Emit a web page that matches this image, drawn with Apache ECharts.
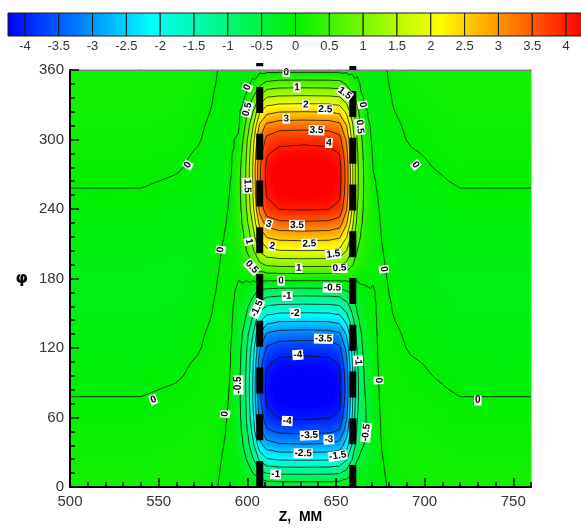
<!DOCTYPE html>
<html>
<head>
<meta charset="utf-8">
<title>phi - Z contour map</title>
<script src="https://cdn.jsdelivr.net/npm/echarts@6/dist/echarts.min.js"></script>
<style>
  html, body { margin: 0; padding: 0; background: #fff; }
  #main { width: 581px; height: 529px; }
</style>
</head>
<body>
<div id="main"></div>
<script>
// grid nodes of the field
const zNodes = [500, 540, 560, 572, 580, 586, 591, 595, 599, 603, 607, 611, 618, 632, 646, 652, 656, 659, 662, 666, 671, 676, 682, 692, 720, 760]
const phiNodes = [0, 12, 24, 36, 48, 60, 72, 84, 96, 108, 120, 132, 144, 156, 168, 180, 192, 204, 216, 228, 240, 252, 264, 276, 288, 300, 312, 324, 336, 348, 360]

// estimated value at every node, one row per phi
const fieldRows = [
  [0.15, 0.15, 0.15, 0.13, 0.06, -0.05, -0.05, -0.05, -0.04, -0.07, -0.12, -0.14, -0.15, -0.15, -0.15, -0.14, -0.11, -0.08, -0.04, -0.05, -0.07, -0.05, 0.06, 0.13, 0.15, 0.15], // 0
  [0.14, 0.14, 0.15, 0.14, 0.08, -0.03, -0.06, -0.09, -0.24, -0.49, -0.84, -1.02, -1.07, -1.08, -1.07, -1.03, -0.81, -0.54, -0.27, -0.20, -0.10, -0.03, 0.08, 0.14, 0.14, 0.14], // 12
  [0.12, 0.12, 0.14, 0.14, 0.10, -0.01, -0.06, -0.17, -0.46, -0.94, -1.62, -1.96, -2.06, -2.08, -2.06, -1.98, -1.56, -1.04, -0.52, -0.35, -0.14, -0.01, 0.10, 0.14, 0.12, 0.12], // 24
  [0.10, 0.10, 0.12, 0.14, 0.11, 0.01, -0.06, -0.24, -0.65, -1.32, -2.29, -2.76, -2.91, -2.94, -2.91, -2.79, -2.21, -1.47, -0.74, -0.48, -0.17, 0.01, 0.11, 0.14, 0.10, 0.10], // 36
  [0.08, 0.08, 0.10, 0.13, 0.12, 0.03, -0.05, -0.29, -0.80, -1.63, -2.82, -3.40, -3.58, -3.62, -3.58, -3.44, -2.72, -1.81, -0.91, -0.56, -0.19, 0.03, 0.12, 0.13, 0.08, 0.08], // 48
  [0.05, 0.05, 0.08, 0.11, 0.12, 0.05, -0.05, -0.33, -0.90, -1.83, -3.17, -3.83, -4.03, -4.07, -4.03, -3.87, -3.05, -2.04, -1.02, -0.58, -0.19, 0.05, 0.12, 0.11, 0.05, 0.05], // 60
  [0.02, 0.02, 0.05, 0.09, 0.12, 0.07, -0.04, -0.34, -0.95, -1.94, -3.35, -4.04, -4.26, -4.30, -4.26, -4.09, -3.23, -2.15, -1.08, -0.56, -0.18, 0.07, 0.12, 0.09, 0.02, 0.02], // 72
  [-0.02, -0.02, 0.02, 0.07, 0.11, 0.08, -0.03, -0.35, -0.97, -1.98, -3.43, -4.14, -4.36, -4.40, -4.36, -4.18, -3.30, -2.20, -1.10, -0.52, -0.16, 0.08, 0.11, 0.07, -0.02, -0.02], // 84
  [-0.05, -0.05, -0.02, 0.04, 0.10, 0.09, -0.02, -0.35, -0.96, -1.96, -3.39, -4.09, -4.31, -4.35, -4.31, -4.13, -3.26, -2.18, -1.09, -0.48, -0.14, 0.09, 0.10, 0.04, -0.05, -0.05], // 96
  [-0.08, -0.08, -0.05, 0.02, 0.08, 0.10, -0.01, -0.33, -0.91, -1.87, -3.24, -3.90, -4.11, -4.15, -4.11, -3.94, -3.11, -2.08, -1.04, -0.42, -0.12, 0.10, 0.08, 0.02, -0.08, -0.08], // 108
  [-0.10, -0.10, -0.08, -0.02, 0.06, 0.10, -0.01, -0.30, -0.84, -1.71, -2.96, -3.57, -3.76, -3.80, -3.76, -3.61, -2.85, -1.90, -0.95, -0.36, -0.10, 0.10, 0.06, -0.02, -0.10, -0.10], // 120
  [-0.12, -0.12, -0.10, -0.04, 0.04, 0.10, 0.01, -0.26, -0.72, -1.46, -2.54, -3.06, -3.22, -3.25, -3.22, -3.09, -2.44, -1.63, -0.81, -0.30, -0.08, 0.10, 0.04, -0.04, -0.12, -0.12], // 132
  [-0.14, -0.14, -0.12, -0.07, 0.01, 0.09, 0.03, -0.19, -0.53, -1.09, -1.90, -2.28, -2.41, -2.43, -2.41, -2.31, -1.82, -1.22, -0.61, -0.22, -0.06, 0.09, 0.01, -0.07, -0.14, -0.14], // 144
  [-0.15, -0.15, -0.14, -0.09, -0.01, 0.08, 0.04, -0.13, -0.36, -0.73, -1.27, -1.53, -1.61, -1.63, -1.61, -1.55, -1.22, -0.82, -0.41, -0.14, -0.04, 0.08, -0.01, -0.09, -0.15, -0.15], // 156
  [-0.15, -0.15, -0.15, -0.11, -0.04, 0.07, 0.05, -0.06, -0.17, -0.36, -0.62, -0.74, -0.78, -0.79, -0.78, -0.75, -0.59, -0.40, -0.20, -0.06, -0.02, 0.07, -0.04, -0.11, -0.15, -0.15], // 168
  [-0.15, -0.15, -0.15, -0.13, -0.06, 0.05, 0.06, 0.01, 0.03, 0.07, 0.12, 0.14, 0.15, 0.15, 0.15, 0.14, 0.11, 0.08, 0.04, 0.05, 0.02, 0.05, -0.06, -0.13, -0.15, -0.15], // 180
  [-0.14, -0.14, -0.15, -0.14, -0.08, 0.03, 0.06, 0.09, 0.25, 0.51, 0.89, 1.07, 1.13, 1.14, 1.13, 1.08, 0.86, 0.57, 0.29, 0.15, 0.08, 0.03, -0.08, -0.14, -0.14, -0.14], // 192
  [-0.12, -0.12, -0.14, -0.14, -0.10, 0.01, 0.06, 0.16, 0.44, 0.90, 1.56, 1.88, 1.98, 2.00, 1.98, 1.90, 1.50, 1.00, 0.50, 0.22, 0.10, 0.01, -0.10, -0.14, -0.12, -0.12], // 204
  [-0.10, -0.10, -0.12, -0.14, -0.11, -0.01, 0.05, 0.22, 0.59, 1.22, 2.11, 2.54, 2.67, 2.70, 2.67, 2.57, 2.03, 1.35, 0.68, 0.29, 0.11, -0.01, -0.11, -0.14, -0.10, -0.10], // 216
  [-0.08, -0.08, -0.10, -0.13, -0.12, -0.03, 0.04, 0.27, 0.75, 1.54, 2.68, 3.22, 3.40, 3.43, 3.40, 3.26, 2.57, 1.72, 0.86, 0.35, 0.11, -0.03, -0.12, -0.13, -0.08, -0.08], // 228
  [-0.05, -0.05, -0.08, -0.11, -0.12, -0.05, 0.03, 0.30, 0.89, 1.82, 3.16, 3.81, 4.01, 4.05, 4.01, 3.85, 3.04, 2.03, 1.01, 0.40, 0.10, -0.05, -0.12, -0.11, -0.05, -0.05], // 240
  [-0.02, -0.02, -0.05, -0.09, -0.12, -0.07, 0.02, 0.33, 0.95, 1.94, 3.35, 4.04, 4.26, 4.30, 4.26, 4.09, 3.23, 2.15, 1.08, 0.43, 0.07, -0.07, -0.12, -0.09, -0.02, -0.02], // 252
  [0.02, 0.02, -0.02, -0.07, -0.11, -0.08, 0.01, 0.33, 0.97, 1.98, 3.43, 4.14, 4.36, 4.40, 4.36, 4.18, 3.30, 2.20, 1.10, 0.44, 0.03, -0.08, -0.11, -0.07, 0.02, 0.02], // 264
  [0.05, 0.05, 0.02, -0.04, -0.10, -0.09, -0.01, 0.28, 0.96, 1.97, 3.42, 4.12, 4.34, 4.38, 4.34, 4.16, 3.29, 2.19, 1.10, 0.42, -0.01, -0.09, -0.10, -0.04, 0.05, 0.05], // 276
  [0.08, 0.08, 0.05, -0.02, -0.08, -0.10, -0.02, 0.18, 0.88, 1.89, 3.28, 3.95, 4.16, 4.20, 4.16, 3.99, 3.15, 2.10, 1.05, 0.37, -0.04, -0.10, -0.08, -0.02, 0.08, 0.08], // 288
  [0.10, 0.10, 0.08, 0.02, -0.06, -0.10, -0.03, 0.04, 0.75, 1.74, 3.02, 3.64, 3.83, 3.87, 3.83, 3.68, 2.90, 1.94, 0.97, 0.28, -0.07, -0.10, -0.06, 0.02, 0.10, 0.10], // 300
  [0.12, 0.12, 0.10, 0.04, -0.04, -0.10, -0.04, -0.05, 0.55, 1.40, 2.60, 3.13, 3.30, 3.33, 3.30, 3.16, 2.50, 1.67, 0.83, 0.18, -0.09, -0.10, -0.04, 0.04, 0.12, 0.12], // 312
  [0.14, 0.14, 0.12, 0.07, -0.01, -0.09, -0.05, -0.08, 0.30, 0.95, 1.95, 2.35, 2.48, 2.50, 2.48, 2.38, 1.88, 1.25, 0.63, 0.06, -0.10, -0.09, -0.01, 0.07, 0.14, 0.14], // 324
  [0.15, 0.15, 0.14, 0.09, 0.01, -0.08, -0.05, -0.08, 0.02, 0.50, 1.10, 1.54, 1.62, 1.64, 1.62, 1.56, 1.23, 0.70, 0.35, -0.05, -0.10, -0.08, 0.01, 0.09, 0.15, 0.15], // 336
  [0.15, 0.15, 0.15, 0.11, 0.04, -0.07, -0.05, -0.07, -0.08, 0.05, 0.40, 0.65, 0.74, 0.75, 0.74, 0.71, 0.45, 0.20, 0.05, -0.08, -0.09, -0.07, 0.04, 0.11, 0.15, 0.15], // 348
  [0.15, 0.15, 0.15, 0.13, 0.06, -0.05, -0.05, -0.05, -0.05, -0.07, -0.12, -0.14, -0.15, -0.15, -0.15, -0.14, -0.11, -0.08, -0.04, -0.08, -0.08, -0.05, 0.06, 0.13, 0.15, 0.15]  // 360
]

const contourLevels = [-4, -3.5, -3, -2.5, -2, -1.5, -1, -0.5, 0, 0.5, 1, 1.5, 2, 2.5, 3, 3.5, 4]
const colorRange = [-4.25, 4.25]
const xMajorTicks = [500, 550, 600, 650, 700, 750]

// the two dashed verticals (z) and how far up they reach (phi)
const dashedZ = [607, 659.5]
const dashedTop = [366, 363.4]

// contour labels: z, phi, text
const contourLabels = [
  [622, 358, '0'], [628, 345, '1'], [633, 330, '2'], [644, 326, '2.5'], [622, 318, '3'],
  [639, 308, '3.5'], [646, 297, '4'], [600, 345, '0'], [600, 326, '0.5'], [600, 260, '1.5'],
  [655, 340, '1.5'], [665, 330, '0'], [663.5, 311, '0.5'], [695, 278, '0'], [566.5, 278, '0'],
  [585, 205, '0'], [612, 227, '3'], [628, 226, '3.5'], [614, 208, '2'], [635, 210, '2.5'],
  [601, 212, '1'], [602.5, 190, '0.5'], [648.5, 201, '1.5'], [629, 189, '1'], [652, 189, '0.5'],
  [619, 178, '0'], [677, 188, '0'],
  [648, 172, '-0.5'], [622.5, 165, '-1'], [605.5, 154, '-1.5'], [627, 150, '-2'], [643, 128, '-3.5'],
  [628.5, 114, '-4'], [662.5, 109, '-1'], [674, 92, '0'], [595, 88, '-0.5'], [587.5, 63, '0'],
  [622.5, 57, '-4'], [635, 44.6, '-3.5'], [646, 41, '-3'], [631.5, 29, '-2.5'], [651, 27, '-1.5'],
  [667, 47, '-0.5'], [616, 11, '-1'], [730, 74.6, '0'], [547, 75.4, '0']
]

// small rainbow colour map
const rainbow = [
  [-4.25, [0, 0, 255]],
  [-2.125, [0, 255, 255]],
  [0, [0, 240, 0]],
  [2.125, [255, 255, 0]],
  [4.25, [255, 0, 0]]
]

function rgb(c) {
  return 'rgb(' + c.map(v => Math.round(v)).join(',') + ')'
}

function colorAt(v) {
  if (v <= rainbow[0][0]) return rgb(rainbow[0][1])
  for (let k = 1; k < rainbow.length; k++) {
    if (v <= rainbow[k][0]) {
      const [v0, c0] = rainbow[k - 1]
      const [v1, c1] = rainbow[k]
      const t = (v - v0) / (v1 - v0)
      return rgb(c0.map((c, n) => c + t * (c1[n] - c)))
    }
  }
  return rgb(rainbow[rainbow.length - 1][1])
}

function gradientStops(lo, hi) {
  const stops = [{ offset: 0, color: colorAt(lo) }]
  rainbow.forEach(([v]) => {
    if (v > lo && v < hi) stops.push({ offset: (v - lo) / (hi - lo), color: colorAt(v) })
  })
  stops.push({ offset: 1, color: colorAt(hi) })
  return stops
}

// one data item per grid cell
const cells = []
for (let i = 0; i < phiNodes.length - 1; i++) {
  for (let j = 0; j < zNodes.length - 1; j++) {
    cells.push([zNodes[j], phiNodes[i], i, j])
  }
}

function cellTriangles(api) {
  const i = api.value(2)
  const j = api.value(3)
  const node = (r, c) => {
    const p = api.coord([zNodes[c], phiNodes[r]])
    return [p[0], p[1], fieldRows[r][c]]
  }
  const a = node(i, j), b = node(i, j + 1), c = node(i + 1, j + 1), d = node(i + 1, j)
  return Math.abs(a[2] - c[2]) <= Math.abs(b[2] - d[2]) ? [[a, b, c], [a, c, d]] : [[a, b, d], [b, c, d]]
}

// linear field on a triangle -> a single linear gradient along its slope
function shadeTriangle(tri) {
  const [p0, p1, p2] = tri
  const vals = tri.map(p => p[2])
  const vmin = Math.min(...vals)
  const vmax = Math.max(...vals)
  const dx1 = p1[0] - p0[0], dy1 = p1[1] - p0[1], dv1 = p1[2] - p0[2]
  const dx2 = p2[0] - p0[0], dy2 = p2[1] - p0[1], dv2 = p2[2] - p0[2]
  const det = dx1 * dy2 - dx2 * dy1
  let fill
  if (Math.abs(det) < 1e-9 || vmax - vmin < 1e-6) {
    fill = colorAt((vmin + vmax) / 2)
  } else {
    const a = (dv1 * dy2 - dv2 * dy1) / det
    const b = (dx1 * dv2 - dx2 * dv1) / det
    const k = (vmax - vmin) / (a * a + b * b)
    const s = tri[vals.indexOf(vmin)]
    fill = new echarts.graphic.LinearGradient(s[0], s[1], s[0] + a * k, s[1] + b * k, gradientStops(vmin, vmax), true)
  }
  return {
    type: 'polygon',
    shape: { points: tri.map(p => [p[0], p[1]]) },
    style: { fill: fill, stroke: fill, lineWidth: 1.2, lineJoin: 'round' }
  }
}

function isoSegments(tri, level, out) {
  const cut = []
  for (let e = 0; e < 3; e++) {
    const p = tri[e], q = tri[(e + 1) % 3]
    if ((p[2] < level) !== (q[2] < level)) {
      const t = (level - p[2]) / (q[2] - p[2])
      cut.push([p[0] + t * (q[0] - p[0]), p[1] + t * (q[1] - p[1])])
    }
  }
  if (cut.length === 2) {
    out.push('M' + cut[0][0].toFixed(2) + ' ' + cut[0][1].toFixed(2) + 'L' + cut[1][0].toFixed(2) + ' ' + cut[1][1].toFixed(2))
  }
}

// slope of the field (per mm, per degree) at a point, bilinear in its cell
function fieldSlope(z, phi) {
  let j = 0, i = 0
  while (j < zNodes.length - 2 && z > zNodes[j + 1]) j++
  while (i < phiNodes.length - 2 && phi > phiNodes[i + 1]) i++
  const z0 = zNodes[j], z1 = zNodes[j + 1], f0 = phiNodes[i], f1 = phiNodes[i + 1]
  const u = (z - z0) / (z1 - z0), w = (phi - f0) / (f1 - f0)
  const v00 = fieldRows[i][j], v10 = fieldRows[i][j + 1]
  const v01 = fieldRows[i + 1][j], v11 = fieldRows[i + 1][j + 1]
  const dz = ((1 - w) * (v10 - v00) + w * (v11 - v01)) / (z1 - z0)
  const dphi = ((1 - u) * (v01 - v00) + u * (v11 - v10)) / (f1 - f0)
  return [dz, dphi]
}

const legendBoxes = []
const legendEdges = [colorRange[0]].concat(contourLevels, [colorRange[1]])
for (let k = 0; k < legendEdges.length - 1; k++) legendBoxes.push([legendEdges[k], legendEdges[k + 1]])

const tickFont = { color: '#333', fontSize: 15, fontFamily: 'Liberation Sans, Arial, sans-serif' }
const tickLine = { color: '#000', width: 1.5 }

const chart = echarts.init(document.getElementById('main'))

const option = {
  animation: false,
  backgroundColor: '#fff',
  grid: [
    { left: 70, top: 70, width: 461, height: 420 },
    { left: 8, top: 13, right: 0, height: 23 }
  ],
  xAxis: [
    {
      gridIndex: 0, type: 'value', min: 500, max: 760, interval: 10, position: 'bottom', z: 10,
      axisLine: { lineStyle: { color: '#000', width: 2 } },
      axisTick: { inside: true, length: 5, lineStyle: tickLine },
      axisLabel: { show: false },
      splitLine: { show: false },
      name: 'Z,  MM', nameLocation: 'middle', nameGap: 23,
      nameTextStyle: { color: '#000', fontSize: 14, fontWeight: 'bold', fontFamily: 'Liberation Sans, Arial, sans-serif' }
    },
    {
      gridIndex: 0, type: 'value', min: 500, max: 760, position: 'bottom', z: 10,
      axisLine: { show: false },
      axisTick: { inside: true, length: 9, customValues: xMajorTicks, lineStyle: tickLine },
      axisLabel: Object.assign({ customValues: xMajorTicks, margin: 7 }, tickFont),
      splitLine: { show: false }
    },
    {
      gridIndex: 0, type: 'value', min: 500, max: 760, position: 'top', z: 10,
      axisLine: { lineStyle: { color: '#808080', width: 1 } },
      axisTick: { show: false }, axisLabel: { show: false }, splitLine: { show: false }
    },
    {
      gridIndex: 1, type: 'value', min: colorRange[0], max: 4.22,
      axisLine: { show: false }, axisTick: { show: false }, splitLine: { show: false },
      axisLabel: { customValues: contourLevels, margin: 4, color: '#333', fontSize: 13, fontFamily: 'Liberation Sans, Arial, sans-serif' }
    }
  ],
  yAxis: [
    {
      gridIndex: 0, type: 'value', min: 0, max: 360, interval: 60, z: 10,
      axisLine: { show: true, lineStyle: { color: '#000', width: 2 } },
      axisTick: { show: true, inside: true, length: 9, lineStyle: tickLine },
      minorTick: { show: true, splitNumber: 5, length: 5, lineStyle: tickLine },
      axisLabel: Object.assign({ margin: 6 }, tickFont),
      splitLine: { show: false },
      name: 'φ', nameLocation: 'middle', nameRotate: 0, nameGap: 42,
      nameTextStyle: { color: '#000', fontSize: 16, fontWeight: 'bold', fontFamily: 'DejaVu Sans, sans-serif' }
    },
    {
      gridIndex: 0, type: 'value', min: 0, max: 360, position: 'right', z: 10,
      axisLine: { show: true, lineStyle: { color: '#c8c8c8', width: 1 } },
      axisTick: { show: false }, axisLabel: { show: false }, splitLine: { show: false }
    },
    { gridIndex: 1, type: 'value', min: 0, max: 1, show: false }
  ],
  series: [
    {
      name: 'field', type: 'custom', xAxisIndex: 0, yAxisIndex: 0, z: 1,
      data: cells, encode: { x: 0, y: 1 }, progressive: 0, silent: true,
      renderItem: (params, api) => ({ type: 'group', children: cellTriangles(api).map(shadeTriangle) })
    },
    {
      name: 'contours', type: 'custom', xAxisIndex: 0, yAxisIndex: 0, z: 2,
      data: cells, encode: { x: 0, y: 1 }, progressive: 0, silent: true,
      renderItem: (params, api) => {
        const segs = []
        cellTriangles(api).forEach(tri => contourLevels.forEach(l => isoSegments(tri, l, segs)))
        if (!segs.length) return null
        return {
          type: 'path',
          shape: { pathData: segs.join('') },
          style: { fill: null, stroke: 'rgba(10,10,10,0.85)', lineWidth: 0.9 }
        }
      }
    },
    {
      type: 'line', xAxisIndex: 0, yAxisIndex: 0, z: 3, clip: false, symbol: 'none', silent: true,
      data: [[dashedZ[0], dashedTop[0]], [dashedZ[0], 0]],
      lineStyle: { color: '#000', width: 7, type: [26, 20.75], dashOffset: 22.75, cap: 'butt' }
    },
    {
      type: 'line', xAxisIndex: 0, yAxisIndex: 0, z: 3, clip: false, symbol: 'none', silent: true,
      data: [[dashedZ[1], dashedTop[1]], [dashedZ[1], 0]],
      lineStyle: { color: '#000', width: 7, type: [26, 20.75], dashOffset: 21.75, cap: 'butt' }
    },
    {
      name: 'labels', type: 'custom', xAxisIndex: 0, yAxisIndex: 0, z: 4, silent: true,
      data: contourLabels.map(l => [l[0], l[1]]), encode: { x: 0, y: 1 },
      renderItem: (params, api) => {
        const z = api.value(0), phi = api.value(1)
        const p = api.coord([z, phi])
        const size = api.size([1, 1])
        const slope = fieldSlope(z, phi)
        const gx = slope[0] / size[0], gy = -slope[1] / size[1]
        let rot = Math.atan2(-gx, -gy)
        while (rot > Math.PI / 2) rot -= Math.PI
        while (rot < -Math.PI / 2) rot += Math.PI
        return {
          type: 'text', x: p[0], y: p[1], rotation: rot,
          style: {
            text: contourLabels[params.dataIndex][2],
            fill: '#000', font: 'bold 10px "Liberation Sans", Arial, sans-serif',
            align: 'center', verticalAlign: 'middle',
            backgroundColor: '#fff', padding: [0, 1]
          }
        }
      }
    },
    {
      name: 'legend', type: 'custom', xAxisIndex: 3, yAxisIndex: 2, silent: true,
      data: legendBoxes, encode: { x: [0, 1] },
      renderItem: (params, api) => {
        const lo = api.value(0), hi = api.value(1)
        const p0 = api.coord([lo, 0]), p1 = api.coord([hi, 1])
        return {
          type: 'rect',
          shape: { x: p0[0], y: p1[1], width: p1[0] - p0[0], height: p0[1] - p1[1] },
          style: {
            fill: new echarts.graphic.LinearGradient(p0[0], p0[1], p1[0], p0[1], gradientStops(lo, hi), true),
            stroke: '#1a1a1a', lineWidth: 1
          }
        }
      }
    }
  ]
}

chart.setOption(option)
</script>
</body>
</html>
